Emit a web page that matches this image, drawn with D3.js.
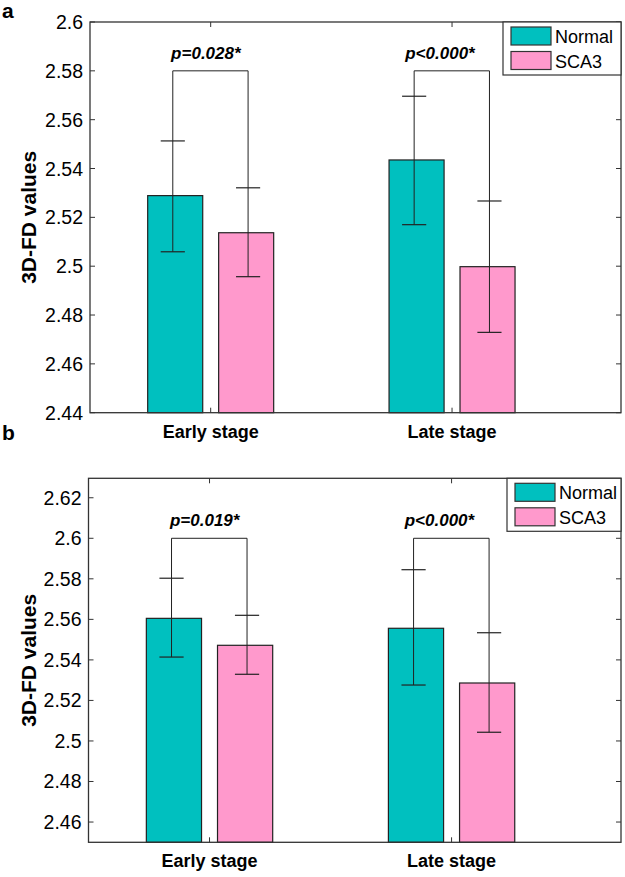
<!DOCTYPE html>
<html>
<head>
<meta charset="utf-8">
<script src="https://cdn.jsdelivr.net/npm/d3@7"></script>
<style>
  body { margin: 0; background: #fff; }
  svg text { font-family: Arial, "Liberation Sans", sans-serif; }
</style>
</head>
<body>
<svg id="chart" width="625" height="877"></svg>
<script>
// data
var stages = ["Early stage", "Late stage"];
var groups = ["Normal", "SCA3"];
var colors = ["#00C0BF", "#FF99CC"];

// panel a
var meanA  = [[2.5289, 2.5137], [2.5435, 2.4998]];
var upperA = [[2.5513, 2.5321], [2.5696, 2.5267]];
var lowerA = [[2.5059, 2.4957], [2.5170, 2.4729]];
var pA = ["p=0.028*", "p<0.000*"];
var ticksA = [2.44, 2.46, 2.48, 2.5, 2.52, 2.54, 2.56, 2.58, 2.6];

// panel b
var meanB  = [[2.5605, 2.5472], [2.5556, 2.5286]];
var upperB = [[2.5803, 2.5620], [2.5845, 2.5534]];
var lowerB = [[2.5414, 2.5329], [2.5276, 2.5043]];
var pB = ["p=0.019*", "p<0.000*"];
var ticksB = [2.46, 2.48, 2.5, 2.52, 2.54, 2.56, 2.58, 2.6, 2.62];

var svg = d3.select("#chart");

function panel(opt) {
  var g = svg.append("g");
  var x = d3.scaleLinear().domain([0.5, 2.7]).range([opt.left, 621]);
  var y = d3.scaleLinear().domain(opt.domain).range([opt.bottom, opt.top]);
  var off = 0.147, bw = 0.228, cap = 0.05;
  var line = "#222";

  // bars
  stages.forEach(function(s, i) {
    groups.forEach(function(gr, j) {
      var cx = (i + 1) + (j == 0 ? -off : off);
      g.append("rect")
        .attr("x", x(cx - bw / 2))
        .attr("y", y(opt.mean[i][j]))
        .attr("width", x(cx + bw / 2) - x(cx - bw / 2))
        .attr("height", y(opt.domain[0]) - y(opt.mean[i][j]))
        .style("fill", colors[j])
        .style("stroke", line)
        .style("stroke-width", 1.2);
    });
  });

  // error bars
  stages.forEach(function(s, i) {
    groups.forEach(function(gr, j) {
      var cx = (i + 1) + (j == 0 ? -off - 0.01 : off + 0.008);
      g.append("line")
        .attr("x1", x(cx)).attr("x2", x(cx))
        .attr("y1", y(opt.upper[i][j])).attr("y2", y(opt.lower[i][j]))
        .style("stroke", line).style("stroke-width", 1);
      [opt.upper[i][j], opt.lower[i][j]].forEach(function(v) {
        g.append("line")
          .attr("x1", x(cx - cap)).attr("x2", x(cx + cap))
          .attr("y1", y(v)).attr("y2", y(v))
          .style("stroke", line).style("stroke-width", 1.2);
      });
    });
  });

  // significance brackets
  stages.forEach(function(s, i) {
    var x1 = (i + 1) - off - 0.01, x2 = (i + 1) + off + 0.008;
    g.append("path")
      .attr("d", "M" + x(x1) + "," + y(opt.upper[i][0]) + "V" + y(opt.bracket) +
                 "H" + x(x2) + "V" + y(opt.upper[i][1]))
      .style("fill", "none").style("stroke", line).style("stroke-width", 1);
    g.append("text")
      .attr("x", x((i + 1) - 0.02 - i * 0.03))
      .attr("y", y(opt.bracket) - 12)
      .attr("text-anchor", "middle")
      .style("font-size", "17px")
      .style("font-weight", "bold")
      .style("font-style", "italic")
      .text(opt.p[i]);
  });

  // box
  g.append("rect")
    .attr("x", opt.left).attr("y", opt.top)
    .attr("width", 621 - opt.left).attr("height", opt.bottom - opt.top)
    .style("fill", "none").style("stroke", "#333").style("stroke-width", 1.3);

  // y ticks (inward, both sides)
  opt.ticks.forEach(function(t) {
    g.append("line").attr("x1", opt.left).attr("x2", opt.left + 5)
      .attr("y1", y(t)).attr("y2", y(t)).style("stroke", "#333");
    g.append("line").attr("x1", 616).attr("x2", 621)
      .attr("y1", y(t)).attr("y2", y(t)).style("stroke", "#333");
    g.append("text")
      .attr("x", opt.left - 7).attr("y", y(t) + 7)
      .attr("text-anchor", "end")
      .style("font-size", "19.5px")
      .text(d3.format("")(t));
  });

  // x ticks
  stages.forEach(function(s, i) {
    g.append("line").attr("x1", x(i + 1)).attr("x2", x(i + 1))
      .attr("y1", opt.bottom).attr("y2", opt.bottom - 5).style("stroke", "#333");
    g.append("line").attr("x1", x(i + 1)).attr("x2", x(i + 1))
      .attr("y1", opt.top).attr("y2", opt.top + 5).style("stroke", "#333");
    g.append("text")
      .attr("x", x(i + 1)).attr("y", opt.bottom + 25)
      .attr("text-anchor", "middle")
      .style("font-size", "18px").style("font-weight", "bold")
      .text(s);
  });

  // y label
  g.append("text")
    .attr("transform", "translate(36," + ((opt.top + opt.bottom) / 2) + ") rotate(-90)")
    .attr("text-anchor", "middle")
    .style("font-size", "21px").style("font-weight", "bold")
    .text("3D-FD values");

  // legend
  var lx = opt.legX, ly = opt.top;
  g.append("rect")
    .attr("x", lx).attr("y", ly).attr("width", 621 - lx).attr("height", 53)
    .style("fill", "#fff").style("stroke", "#333").style("stroke-width", 1.2);
  groups.forEach(function(gr, j) {
    g.append("rect")
      .attr("x", lx + 8).attr("y", ly + 5 + j * 24.5)
      .attr("width", 40).attr("height", 18)
      .style("fill", colors[j]).style("stroke", "#333").style("stroke-width", 1.2);
    g.append("text")
      .attr("x", lx + 52).attr("y", ly + 21 + j * 24.5)
      .style("font-size", "18px")
      .text(gr);
  });

  // panel letter
  svg.append("text")
    .attr("x", 2).attr("y", opt.letterY)
    .style("font-size", "21px").style("font-weight", "bold")
    .text(opt.letter);
}

panel({ left: 90, top: 22, bottom: 412.7, domain: [2.44, 2.6], ticks: ticksA,
        mean: meanA, upper: upperA, lower: lowerA, p: pA, bracket: 2.58,
        legX: 503, letter: "a", letterY: 18 });
panel({ left: 88.5, top: 478.3, bottom: 842.3, domain: [2.45, 2.6296], ticks: ticksB,
        mean: meanB, upper: upperB, lower: lowerB, p: pB, bracket: 2.6,
        legX: 507, letter: "b", letterY: 440 });
</script>
</body>
</html>
